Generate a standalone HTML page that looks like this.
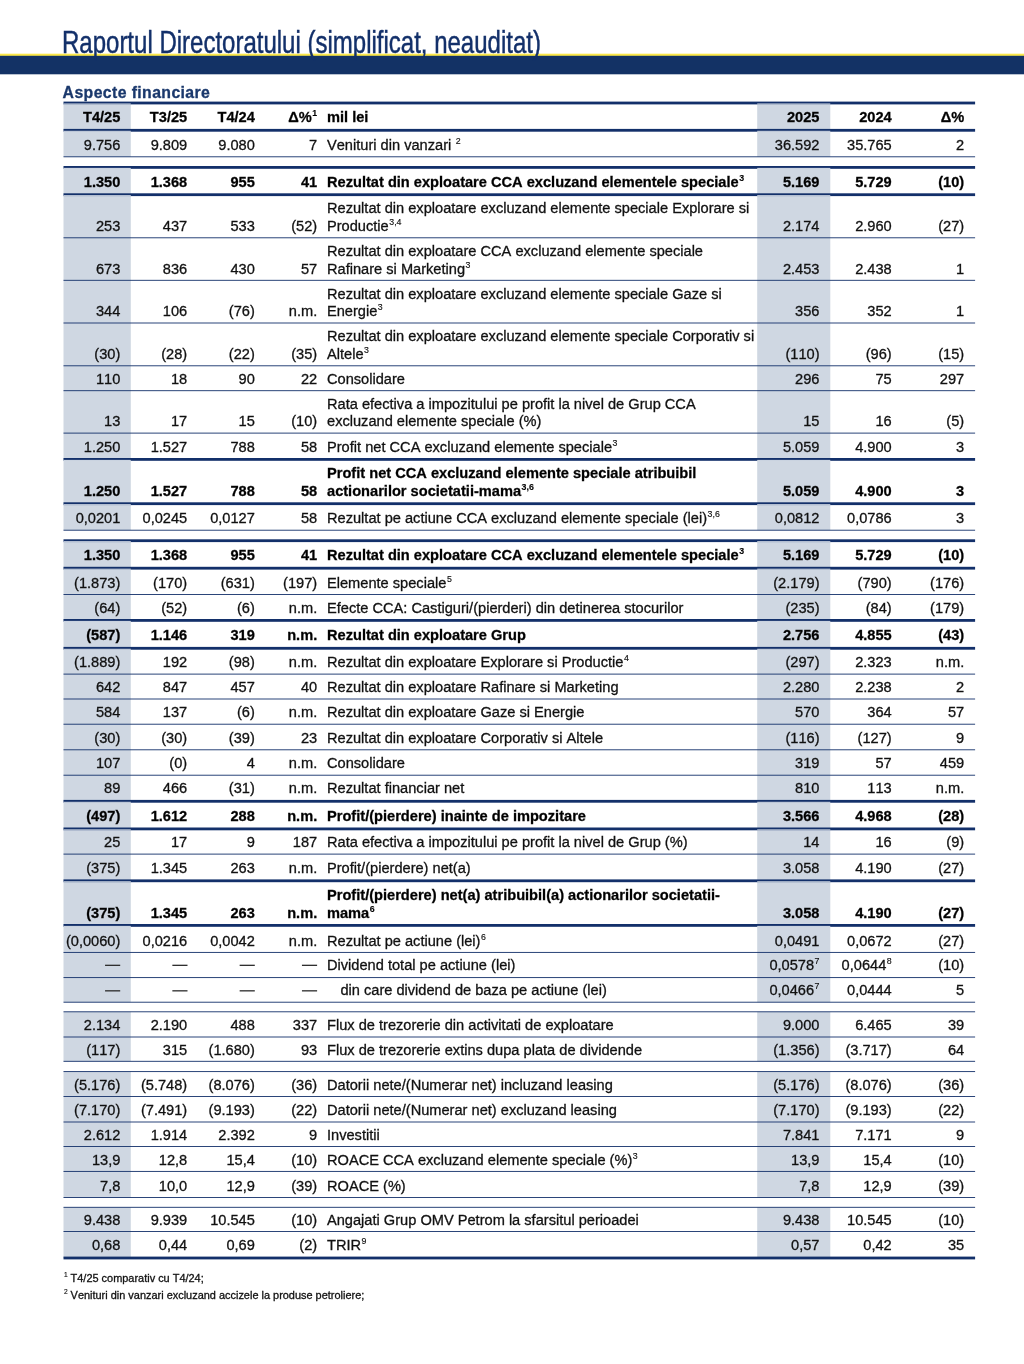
<!DOCTYPE html>
<html lang="ro"><head><meta charset="utf-8"><title>Raportul Directoratului</title>
<style>
html,body{margin:0;padding:0;background:#fff;}
body{width:1024px;height:1364px;position:relative;overflow:hidden;font-family:"Liberation Sans",sans-serif;color:#111;font-kerning:none;}
#g{position:absolute;left:0;top:0;width:1024px;height:1364px;}
#t{position:absolute;left:0;top:0;width:1024px;height:1364px;will-change:transform;}
.title{position:absolute;left:62.2px;top:25.9px;font-size:30.9px;line-height:34px;-webkit-text-stroke:0.45px #13306a;color:#13306a;white-space:nowrap;transform:scaleX(0.777);transform-origin:0 0;}
.sub{position:absolute;left:62.6px;top:83.4px;font-size:15.8px;letter-spacing:0.4px;line-height:19px;font-weight:bold;color:#1a386c;-webkit-text-stroke:0.3px #1a386c;white-space:nowrap;}
.n,.l{position:absolute;font-size:14.61px;line-height:17px;height:17px;white-space:nowrap;}
.n,.l,.fn{-webkit-text-stroke:0.3px #111;}
.n{text-align:right;}
.b{font-weight:bold;color:#000;}
.dash{color:#555;-webkit-text-stroke:0;margin-top:-2px;margin-right:0.8px;}
sup{font-size:8.8px;line-height:0;vertical-align:baseline;position:relative;top:-5.6px;margin-left:0.5px;-webkit-text-stroke:0.15px #111;}
.fn{position:absolute;left:63.4px;font-size:10.95px;line-height:14px;white-space:nowrap;color:#111;}
.fn sup{font-size:6.6px;top:-4.4px;}
</style></head><body>
<svg id="g" width="1024" height="1364" viewBox="0 0 1024 1364">
<rect x="0" y="53.7" width="1024" height="2.3" fill="#fbe84a"/>
<rect x="0" y="55.8" width="1024" height="18.5" fill="#133265"/>
<rect x="63.5" y="103.00" width="67.30" height="53.80" fill="#cfd7e2"/>
<rect x="757.2" y="103.00" width="73.10" height="53.80" fill="#cfd7e2"/>
<rect x="63.5" y="167.40" width="67.30" height="362.80" fill="#cfd7e2"/>
<rect x="757.2" y="167.40" width="73.10" height="362.80" fill="#cfd7e2"/>
<rect x="63.5" y="540.70" width="67.30" height="461.50" fill="#cfd7e2"/>
<rect x="757.2" y="540.70" width="73.10" height="461.50" fill="#cfd7e2"/>
<rect x="63.5" y="1011.80" width="67.30" height="49.50" fill="#cfd7e2"/>
<rect x="757.2" y="1011.80" width="73.10" height="49.50" fill="#cfd7e2"/>
<rect x="63.5" y="1071.60" width="67.30" height="125.90" fill="#cfd7e2"/>
<rect x="757.2" y="1071.60" width="73.10" height="125.90" fill="#cfd7e2"/>
<rect x="63.5" y="1207.30" width="67.30" height="50.70" fill="#cfd7e2"/>
<rect x="757.2" y="1207.30" width="73.10" height="50.70" fill="#cfd7e2"/>
<rect x="63.5" y="101.60" width="911.60" height="2.8" fill="#13306a"/>
<rect x="63.5" y="103.50" width="67.30" height="1.0" fill="#dbe2ea"/>
<rect x="757.2" y="103.50" width="73.10" height="1.0" fill="#dbe2ea"/>
<rect x="63.5" y="128.90" width="911.60" height="2.8" fill="#13306a"/>
<rect x="63.5" y="130.80" width="67.30" height="1.0" fill="#dbe2ea"/>
<rect x="757.2" y="130.80" width="73.10" height="1.0" fill="#dbe2ea"/>
<rect x="63.5" y="156.35" width="911.60" height="0.9" fill="#13306a"/>
<rect x="63.5" y="166.00" width="911.60" height="2.8" fill="#13306a"/>
<rect x="63.5" y="167.90" width="67.30" height="1.0" fill="#dbe2ea"/>
<rect x="757.2" y="167.90" width="73.10" height="1.0" fill="#dbe2ea"/>
<rect x="63.5" y="193.30" width="911.60" height="2.8" fill="#13306a"/>
<rect x="63.5" y="195.20" width="67.30" height="1.0" fill="#dbe2ea"/>
<rect x="757.2" y="195.20" width="73.10" height="1.0" fill="#dbe2ea"/>
<rect x="63.5" y="237.35" width="911.60" height="0.9" fill="#13306a"/>
<rect x="63.5" y="279.85" width="911.60" height="0.9" fill="#13306a"/>
<rect x="63.5" y="322.55" width="911.60" height="0.9" fill="#13306a"/>
<rect x="63.5" y="365.35" width="911.60" height="0.9" fill="#13306a"/>
<rect x="63.5" y="390.25" width="911.60" height="0.9" fill="#13306a"/>
<rect x="63.5" y="432.65" width="911.60" height="0.9" fill="#13306a"/>
<rect x="63.5" y="458.00" width="911.60" height="2.8" fill="#13306a"/>
<rect x="63.5" y="459.90" width="67.30" height="1.0" fill="#dbe2ea"/>
<rect x="757.2" y="459.90" width="73.10" height="1.0" fill="#dbe2ea"/>
<rect x="63.5" y="502.30" width="911.60" height="2.8" fill="#13306a"/>
<rect x="63.5" y="504.20" width="67.30" height="1.0" fill="#dbe2ea"/>
<rect x="757.2" y="504.20" width="73.10" height="1.0" fill="#dbe2ea"/>
<rect x="63.5" y="529.75" width="911.60" height="0.9" fill="#13306a"/>
<rect x="63.5" y="539.30" width="911.60" height="2.8" fill="#13306a"/>
<rect x="63.5" y="541.20" width="67.30" height="1.0" fill="#dbe2ea"/>
<rect x="757.2" y="541.20" width="73.10" height="1.0" fill="#dbe2ea"/>
<rect x="63.5" y="566.80" width="911.60" height="2.8" fill="#13306a"/>
<rect x="63.5" y="568.70" width="67.30" height="1.0" fill="#dbe2ea"/>
<rect x="757.2" y="568.70" width="73.10" height="1.0" fill="#dbe2ea"/>
<rect x="63.5" y="594.05" width="911.60" height="0.9" fill="#13306a"/>
<rect x="63.5" y="619.00" width="911.60" height="2.8" fill="#13306a"/>
<rect x="63.5" y="620.90" width="67.30" height="1.0" fill="#dbe2ea"/>
<rect x="757.2" y="620.90" width="73.10" height="1.0" fill="#dbe2ea"/>
<rect x="63.5" y="646.90" width="911.60" height="2.8" fill="#13306a"/>
<rect x="63.5" y="648.80" width="67.30" height="1.0" fill="#dbe2ea"/>
<rect x="757.2" y="648.80" width="73.10" height="1.0" fill="#dbe2ea"/>
<rect x="63.5" y="673.65" width="911.60" height="0.9" fill="#13306a"/>
<rect x="63.5" y="698.55" width="911.60" height="0.9" fill="#13306a"/>
<rect x="63.5" y="723.75" width="911.60" height="0.9" fill="#13306a"/>
<rect x="63.5" y="749.35" width="911.60" height="0.9" fill="#13306a"/>
<rect x="63.5" y="774.75" width="911.60" height="0.9" fill="#13306a"/>
<rect x="63.5" y="799.90" width="911.60" height="2.8" fill="#13306a"/>
<rect x="63.5" y="801.80" width="67.30" height="1.0" fill="#dbe2ea"/>
<rect x="757.2" y="801.80" width="73.10" height="1.0" fill="#dbe2ea"/>
<rect x="63.5" y="827.50" width="911.60" height="2.8" fill="#13306a"/>
<rect x="63.5" y="829.40" width="67.30" height="1.0" fill="#dbe2ea"/>
<rect x="757.2" y="829.40" width="73.10" height="1.0" fill="#dbe2ea"/>
<rect x="63.5" y="853.65" width="911.60" height="0.9" fill="#13306a"/>
<rect x="63.5" y="879.40" width="911.60" height="2.8" fill="#13306a"/>
<rect x="63.5" y="881.30" width="67.30" height="1.0" fill="#dbe2ea"/>
<rect x="757.2" y="881.30" width="73.10" height="1.0" fill="#dbe2ea"/>
<rect x="63.5" y="924.00" width="911.60" height="2.8" fill="#13306a"/>
<rect x="63.5" y="925.90" width="67.30" height="1.0" fill="#dbe2ea"/>
<rect x="757.2" y="925.90" width="73.10" height="1.0" fill="#dbe2ea"/>
<rect x="63.5" y="951.95" width="911.60" height="0.9" fill="#13306a"/>
<rect x="63.5" y="977.15" width="911.60" height="0.9" fill="#13306a"/>
<rect x="63.5" y="1001.75" width="911.60" height="0.9" fill="#13306a"/>
<rect x="63.5" y="1011.35" width="911.60" height="0.9" fill="#13306a"/>
<rect x="63.5" y="1036.55" width="911.60" height="0.9" fill="#13306a"/>
<rect x="63.5" y="1060.85" width="911.60" height="0.9" fill="#13306a"/>
<rect x="63.5" y="1071.15" width="911.60" height="0.9" fill="#13306a"/>
<rect x="63.5" y="1096.05" width="911.60" height="0.9" fill="#13306a"/>
<rect x="63.5" y="1121.55" width="911.60" height="0.9" fill="#13306a"/>
<rect x="63.5" y="1146.05" width="911.60" height="0.9" fill="#13306a"/>
<rect x="63.5" y="1170.95" width="911.60" height="0.9" fill="#13306a"/>
<rect x="63.5" y="1197.05" width="911.60" height="0.9" fill="#13306a"/>
<rect x="63.5" y="1206.85" width="911.60" height="0.9" fill="#13306a"/>
<rect x="63.5" y="1231.05" width="911.60" height="0.9" fill="#13306a"/>
<rect x="63.5" y="1256.60" width="911.60" height="2.8" fill="#13306a"/>
<rect x="105.05" y="964.68" width="15.15" height="1.3" fill="#2c2c2c"/>
<rect x="172.35" y="964.68" width="15.15" height="1.3" fill="#2c2c2c"/>
<rect x="239.65" y="964.68" width="15.15" height="1.3" fill="#2c2c2c"/>
<rect x="301.95" y="964.68" width="15.15" height="1.3" fill="#2c2c2c"/>
<rect x="105.05" y="990.18" width="15.15" height="1.3" fill="#2c2c2c"/>
<rect x="172.35" y="990.18" width="15.15" height="1.3" fill="#2c2c2c"/>
<rect x="239.65" y="990.18" width="15.15" height="1.3" fill="#2c2c2c"/>
<rect x="301.95" y="990.18" width="15.15" height="1.3" fill="#2c2c2c"/>
</svg>
<div id="t">
<div class="title">Raportul Directoratului (simplificat, neauditat)</div>
<div class="sub">Aspecte financiare</div>
<div class="n b" style="top:109px;right:903.70px">T4/25</div>
<div class="n b" style="top:109px;right:836.80px">T3/25</div>
<div class="n b" style="top:109px;right:769.20px">T4/24</div>
<div class="n b" style="top:109px;right:706.80px">Δ%<sup>1</sup></div>
<div class="n b" style="top:109px;right:204.50px">2025</div>
<div class="n b" style="top:109px;right:132.30px">2024</div>
<div class="n b" style="top:109px;right:59.80px">Δ%</div>
<div class="l b" style="top:109px;left:327.00px">mil lei</div>
<div class="n" style="top:137px;right:903.70px">9.756</div>
<div class="n" style="top:137px;right:836.80px">9.809</div>
<div class="n" style="top:137px;right:769.20px">9.080</div>
<div class="n" style="top:137px;right:706.80px">7</div>
<div class="n" style="top:137px;right:204.50px">36.592</div>
<div class="n" style="top:137px;right:132.30px">35.765</div>
<div class="n" style="top:137px;right:59.80px">2</div>
<div class="l" style="top:137px;left:327.00px">Venituri din vanzari <sup>2</sup></div>
<div class="n b" style="top:174px;right:903.70px">1.350</div>
<div class="n b" style="top:174px;right:836.80px">1.368</div>
<div class="n b" style="top:174px;right:769.20px">955</div>
<div class="n b" style="top:174px;right:706.80px">41</div>
<div class="n b" style="top:174px;right:204.50px">5.169</div>
<div class="n b" style="top:174px;right:132.30px">5.729</div>
<div class="n b" style="top:174px;right:59.80px">(10)</div>
<div class="l b" style="top:174px;left:327.00px">Rezultat din exploatare CCA excluzand elementele speciale<sup>3</sup></div>
<div class="n" style="top:218px;right:903.70px">253</div>
<div class="n" style="top:218px;right:836.80px">437</div>
<div class="n" style="top:218px;right:769.20px">533</div>
<div class="n" style="top:218px;right:706.80px">(52)</div>
<div class="n" style="top:218px;right:204.50px">2.174</div>
<div class="n" style="top:218px;right:132.30px">2.960</div>
<div class="n" style="top:218px;right:59.80px">(27)</div>
<div class="l" style="top:200px;left:327.00px">Rezultat din exploatare excluzand elemente speciale Explorare si</div>
<div class="l" style="top:218px;left:327.00px">Productie<sup>3,4</sup></div>
<div class="n" style="top:261px;right:903.70px">673</div>
<div class="n" style="top:261px;right:836.80px">836</div>
<div class="n" style="top:261px;right:769.20px">430</div>
<div class="n" style="top:261px;right:706.80px">57</div>
<div class="n" style="top:261px;right:204.50px">2.453</div>
<div class="n" style="top:261px;right:132.30px">2.438</div>
<div class="n" style="top:261px;right:59.80px">1</div>
<div class="l" style="top:243px;left:327.00px">Rezultat din exploatare CCA excluzand elemente speciale</div>
<div class="l" style="top:261px;left:327.00px">Rafinare si Marketing<sup>3</sup></div>
<div class="n" style="top:303px;right:903.70px">344</div>
<div class="n" style="top:303px;right:836.80px">106</div>
<div class="n" style="top:303px;right:769.20px">(76)</div>
<div class="n" style="top:303px;right:706.80px">n.m.</div>
<div class="n" style="top:303px;right:204.50px">356</div>
<div class="n" style="top:303px;right:132.30px">352</div>
<div class="n" style="top:303px;right:59.80px">1</div>
<div class="l" style="top:286px;left:327.00px">Rezultat din exploatare excluzand elemente speciale Gaze si</div>
<div class="l" style="top:303px;left:327.00px">Energie<sup>3</sup></div>
<div class="n" style="top:346px;right:903.70px">(30)</div>
<div class="n" style="top:346px;right:836.80px">(28)</div>
<div class="n" style="top:346px;right:769.20px">(22)</div>
<div class="n" style="top:346px;right:706.80px">(35)</div>
<div class="n" style="top:346px;right:204.50px">(110)</div>
<div class="n" style="top:346px;right:132.30px">(96)</div>
<div class="n" style="top:346px;right:59.80px">(15)</div>
<div class="l" style="top:328px;left:327.00px">Rezultat din exploatare excluzand elemente speciale Corporativ si</div>
<div class="l" style="top:346px;left:327.00px">Altele<sup>3</sup></div>
<div class="n" style="top:371px;right:903.70px">110</div>
<div class="n" style="top:371px;right:836.80px">18</div>
<div class="n" style="top:371px;right:769.20px">90</div>
<div class="n" style="top:371px;right:706.80px">22</div>
<div class="n" style="top:371px;right:204.50px">296</div>
<div class="n" style="top:371px;right:132.30px">75</div>
<div class="n" style="top:371px;right:59.80px">297</div>
<div class="l" style="top:371px;left:327.00px">Consolidare</div>
<div class="n" style="top:413px;right:903.70px">13</div>
<div class="n" style="top:413px;right:836.80px">17</div>
<div class="n" style="top:413px;right:769.20px">15</div>
<div class="n" style="top:413px;right:706.80px">(10)</div>
<div class="n" style="top:413px;right:204.50px">15</div>
<div class="n" style="top:413px;right:132.30px">16</div>
<div class="n" style="top:413px;right:59.80px">(5)</div>
<div class="l" style="top:396px;left:327.00px">Rata efectiva a impozitului pe profit la nivel de Grup CCA</div>
<div class="l" style="top:413px;left:327.00px">excluzand elemente speciale (%)</div>
<div class="n" style="top:439px;right:903.70px">1.250</div>
<div class="n" style="top:439px;right:836.80px">1.527</div>
<div class="n" style="top:439px;right:769.20px">788</div>
<div class="n" style="top:439px;right:706.80px">58</div>
<div class="n" style="top:439px;right:204.50px">5.059</div>
<div class="n" style="top:439px;right:132.30px">4.900</div>
<div class="n" style="top:439px;right:59.80px">3</div>
<div class="l" style="top:439px;left:327.00px">Profit net CCA excluzand elemente speciale<sup>3</sup></div>
<div class="n b" style="top:483px;right:903.70px">1.250</div>
<div class="n b" style="top:483px;right:836.80px">1.527</div>
<div class="n b" style="top:483px;right:769.20px">788</div>
<div class="n b" style="top:483px;right:706.80px">58</div>
<div class="n b" style="top:483px;right:204.50px">5.059</div>
<div class="n b" style="top:483px;right:132.30px">4.900</div>
<div class="n b" style="top:483px;right:59.80px">3</div>
<div class="l b" style="top:465px;left:327.00px">Profit net CCA excluzand elemente speciale atribuibil</div>
<div class="l b" style="top:483px;left:327.00px">actionarilor societatii-mama<sup>3,6</sup></div>
<div class="n" style="top:510px;right:903.70px">0,0201</div>
<div class="n" style="top:510px;right:836.80px">0,0245</div>
<div class="n" style="top:510px;right:769.20px">0,0127</div>
<div class="n" style="top:510px;right:706.80px">58</div>
<div class="n" style="top:510px;right:204.50px">0,0812</div>
<div class="n" style="top:510px;right:132.30px">0,0786</div>
<div class="n" style="top:510px;right:59.80px">3</div>
<div class="l" style="top:510px;left:327.00px">Rezultat pe actiune CCA excluzand elemente speciale (lei)<sup>3,6</sup></div>
<div class="n b" style="top:547px;right:903.70px">1.350</div>
<div class="n b" style="top:547px;right:836.80px">1.368</div>
<div class="n b" style="top:547px;right:769.20px">955</div>
<div class="n b" style="top:547px;right:706.80px">41</div>
<div class="n b" style="top:547px;right:204.50px">5.169</div>
<div class="n b" style="top:547px;right:132.30px">5.729</div>
<div class="n b" style="top:547px;right:59.80px">(10)</div>
<div class="l b" style="top:547px;left:327.00px">Rezultat din exploatare CCA excluzand elementele speciale<sup>3</sup></div>
<div class="n" style="top:575px;right:903.70px">(1.873)</div>
<div class="n" style="top:575px;right:836.80px">(170)</div>
<div class="n" style="top:575px;right:769.20px">(631)</div>
<div class="n" style="top:575px;right:706.80px">(197)</div>
<div class="n" style="top:575px;right:204.50px">(2.179)</div>
<div class="n" style="top:575px;right:132.30px">(790)</div>
<div class="n" style="top:575px;right:59.80px">(176)</div>
<div class="l" style="top:575px;left:327.00px">Elemente speciale<sup>5</sup></div>
<div class="n" style="top:600px;right:903.70px">(64)</div>
<div class="n" style="top:600px;right:836.80px">(52)</div>
<div class="n" style="top:600px;right:769.20px">(6)</div>
<div class="n" style="top:600px;right:706.80px">n.m.</div>
<div class="n" style="top:600px;right:204.50px">(235)</div>
<div class="n" style="top:600px;right:132.30px">(84)</div>
<div class="n" style="top:600px;right:59.80px">(179)</div>
<div class="l" style="top:600px;left:327.00px">Efecte CCA: Castiguri/(pierderi) din detinerea stocurilor</div>
<div class="n b" style="top:627px;right:903.70px">(587)</div>
<div class="n b" style="top:627px;right:836.80px">1.146</div>
<div class="n b" style="top:627px;right:769.20px">319</div>
<div class="n b" style="top:627px;right:706.80px">n.m.</div>
<div class="n b" style="top:627px;right:204.50px">2.756</div>
<div class="n b" style="top:627px;right:132.30px">4.855</div>
<div class="n b" style="top:627px;right:59.80px">(43)</div>
<div class="l b" style="top:627px;left:327.00px">Rezultat din exploatare Grup</div>
<div class="n" style="top:654px;right:903.70px">(1.889)</div>
<div class="n" style="top:654px;right:836.80px">192</div>
<div class="n" style="top:654px;right:769.20px">(98)</div>
<div class="n" style="top:654px;right:706.80px">n.m.</div>
<div class="n" style="top:654px;right:204.50px">(297)</div>
<div class="n" style="top:654px;right:132.30px">2.323</div>
<div class="n" style="top:654px;right:59.80px">n.m.</div>
<div class="l" style="top:654px;left:327.00px">Rezultat din exploatare Explorare si Productie<sup>4</sup></div>
<div class="n" style="top:679px;right:903.70px">642</div>
<div class="n" style="top:679px;right:836.80px">847</div>
<div class="n" style="top:679px;right:769.20px">457</div>
<div class="n" style="top:679px;right:706.80px">40</div>
<div class="n" style="top:679px;right:204.50px">2.280</div>
<div class="n" style="top:679px;right:132.30px">2.238</div>
<div class="n" style="top:679px;right:59.80px">2</div>
<div class="l" style="top:679px;left:327.00px">Rezultat din exploatare Rafinare si Marketing</div>
<div class="n" style="top:704px;right:903.70px">584</div>
<div class="n" style="top:704px;right:836.80px">137</div>
<div class="n" style="top:704px;right:769.20px">(6)</div>
<div class="n" style="top:704px;right:706.80px">n.m.</div>
<div class="n" style="top:704px;right:204.50px">570</div>
<div class="n" style="top:704px;right:132.30px">364</div>
<div class="n" style="top:704px;right:59.80px">57</div>
<div class="l" style="top:704px;left:327.00px">Rezultat din exploatare Gaze si Energie</div>
<div class="n" style="top:730px;right:903.70px">(30)</div>
<div class="n" style="top:730px;right:836.80px">(30)</div>
<div class="n" style="top:730px;right:769.20px">(39)</div>
<div class="n" style="top:730px;right:706.80px">23</div>
<div class="n" style="top:730px;right:204.50px">(116)</div>
<div class="n" style="top:730px;right:132.30px">(127)</div>
<div class="n" style="top:730px;right:59.80px">9</div>
<div class="l" style="top:730px;left:327.00px">Rezultat din exploatare Corporativ si Altele</div>
<div class="n" style="top:755px;right:903.70px">107</div>
<div class="n" style="top:755px;right:836.80px">(0)</div>
<div class="n" style="top:755px;right:769.20px">4</div>
<div class="n" style="top:755px;right:706.80px">n.m.</div>
<div class="n" style="top:755px;right:204.50px">319</div>
<div class="n" style="top:755px;right:132.30px">57</div>
<div class="n" style="top:755px;right:59.80px">459</div>
<div class="l" style="top:755px;left:327.00px">Consolidare</div>
<div class="n" style="top:780px;right:903.70px">89</div>
<div class="n" style="top:780px;right:836.80px">466</div>
<div class="n" style="top:780px;right:769.20px">(31)</div>
<div class="n" style="top:780px;right:706.80px">n.m.</div>
<div class="n" style="top:780px;right:204.50px">810</div>
<div class="n" style="top:780px;right:132.30px">113</div>
<div class="n" style="top:780px;right:59.80px">n.m.</div>
<div class="l" style="top:780px;left:327.00px">Rezultat financiar net</div>
<div class="n b" style="top:808px;right:903.70px">(497)</div>
<div class="n b" style="top:808px;right:836.80px">1.612</div>
<div class="n b" style="top:808px;right:769.20px">288</div>
<div class="n b" style="top:808px;right:706.80px">n.m.</div>
<div class="n b" style="top:808px;right:204.50px">3.566</div>
<div class="n b" style="top:808px;right:132.30px">4.968</div>
<div class="n b" style="top:808px;right:59.80px">(28)</div>
<div class="l b" style="top:808px;left:327.00px">Profit/(pierdere) inainte de impozitare</div>
<div class="n" style="top:834px;right:903.70px">25</div>
<div class="n" style="top:834px;right:836.80px">17</div>
<div class="n" style="top:834px;right:769.20px">9</div>
<div class="n" style="top:834px;right:706.80px">187</div>
<div class="n" style="top:834px;right:204.50px">14</div>
<div class="n" style="top:834px;right:132.30px">16</div>
<div class="n" style="top:834px;right:59.80px">(9)</div>
<div class="l" style="top:834px;left:327.00px">Rata efectiva a impozitului pe profit la nivel de Grup (%)</div>
<div class="n" style="top:860px;right:903.70px">(375)</div>
<div class="n" style="top:860px;right:836.80px">1.345</div>
<div class="n" style="top:860px;right:769.20px">263</div>
<div class="n" style="top:860px;right:706.80px">n.m.</div>
<div class="n" style="top:860px;right:204.50px">3.058</div>
<div class="n" style="top:860px;right:132.30px">4.190</div>
<div class="n" style="top:860px;right:59.80px">(27)</div>
<div class="l" style="top:860px;left:327.00px">Profit/(pierdere) net(a)</div>
<div class="n b" style="top:905px;right:903.70px">(375)</div>
<div class="n b" style="top:905px;right:836.80px">1.345</div>
<div class="n b" style="top:905px;right:769.20px">263</div>
<div class="n b" style="top:905px;right:706.80px">n.m.</div>
<div class="n b" style="top:905px;right:204.50px">3.058</div>
<div class="n b" style="top:905px;right:132.30px">4.190</div>
<div class="n b" style="top:905px;right:59.80px">(27)</div>
<div class="l b" style="top:887px;left:327.00px">Profit/(pierdere) net(a) atribuibil(a) actionarilor societatii-</div>
<div class="l b" style="top:905px;left:327.00px">mama<sup>6</sup></div>
<div class="n" style="top:933px;right:903.70px">(0,0060)</div>
<div class="n" style="top:933px;right:836.80px">0,0216</div>
<div class="n" style="top:933px;right:769.20px">0,0042</div>
<div class="n" style="top:933px;right:706.80px">n.m.</div>
<div class="n" style="top:933px;right:204.50px">0,0491</div>
<div class="n" style="top:933px;right:132.30px">0,0672</div>
<div class="n" style="top:933px;right:59.80px">(27)</div>
<div class="l" style="top:933px;left:327.00px">Rezultat pe actiune (lei)<sup>6</sup></div>
<div class="n" style="top:957px;right:204.50px">0,0578<sup>7</sup></div>
<div class="n" style="top:957px;right:132.30px">0,0644<sup>8</sup></div>
<div class="n" style="top:957px;right:59.80px">(10)</div>
<div class="l" style="top:957px;left:327.00px">Dividend total pe actiune (lei)</div>
<div class="n" style="top:982px;right:204.50px">0,0466<sup>7</sup></div>
<div class="n" style="top:982px;right:132.30px">0,0444</div>
<div class="n" style="top:982px;right:59.80px">5</div>
<div class="l" style="top:982px;left:340.40px">din care dividend de baza pe actiune (lei)</div>
<div class="n" style="top:1017px;right:903.70px">2.134</div>
<div class="n" style="top:1017px;right:836.80px">2.190</div>
<div class="n" style="top:1017px;right:769.20px">488</div>
<div class="n" style="top:1017px;right:706.80px">337</div>
<div class="n" style="top:1017px;right:204.50px">9.000</div>
<div class="n" style="top:1017px;right:132.30px">6.465</div>
<div class="n" style="top:1017px;right:59.80px">39</div>
<div class="l" style="top:1017px;left:327.00px">Flux de trezorerie din activitati de exploatare</div>
<div class="n" style="top:1042px;right:903.70px">(117)</div>
<div class="n" style="top:1042px;right:836.80px">315</div>
<div class="n" style="top:1042px;right:769.20px">(1.680)</div>
<div class="n" style="top:1042px;right:706.80px">93</div>
<div class="n" style="top:1042px;right:204.50px">(1.356)</div>
<div class="n" style="top:1042px;right:132.30px">(3.717)</div>
<div class="n" style="top:1042px;right:59.80px">64</div>
<div class="l" style="top:1042px;left:327.00px">Flux de trezorerie extins dupa plata de dividende</div>
<div class="n" style="top:1077px;right:903.70px">(5.176)</div>
<div class="n" style="top:1077px;right:836.80px">(5.748)</div>
<div class="n" style="top:1077px;right:769.20px">(8.076)</div>
<div class="n" style="top:1077px;right:706.80px">(36)</div>
<div class="n" style="top:1077px;right:204.50px">(5.176)</div>
<div class="n" style="top:1077px;right:132.30px">(8.076)</div>
<div class="n" style="top:1077px;right:59.80px">(36)</div>
<div class="l" style="top:1077px;left:327.00px">Datorii nete/(Numerar net) incluzand leasing</div>
<div class="n" style="top:1102px;right:903.70px">(7.170)</div>
<div class="n" style="top:1102px;right:836.80px">(7.491)</div>
<div class="n" style="top:1102px;right:769.20px">(9.193)</div>
<div class="n" style="top:1102px;right:706.80px">(22)</div>
<div class="n" style="top:1102px;right:204.50px">(7.170)</div>
<div class="n" style="top:1102px;right:132.30px">(9.193)</div>
<div class="n" style="top:1102px;right:59.80px">(22)</div>
<div class="l" style="top:1102px;left:327.00px">Datorii nete/(Numerar net) excluzand leasing</div>
<div class="n" style="top:1127px;right:903.70px">2.612</div>
<div class="n" style="top:1127px;right:836.80px">1.914</div>
<div class="n" style="top:1127px;right:769.20px">2.392</div>
<div class="n" style="top:1127px;right:706.80px">9</div>
<div class="n" style="top:1127px;right:204.50px">7.841</div>
<div class="n" style="top:1127px;right:132.30px">7.171</div>
<div class="n" style="top:1127px;right:59.80px">9</div>
<div class="l" style="top:1127px;left:327.00px">Investitii</div>
<div class="n" style="top:1152px;right:903.70px">13,9</div>
<div class="n" style="top:1152px;right:836.80px">12,8</div>
<div class="n" style="top:1152px;right:769.20px">15,4</div>
<div class="n" style="top:1152px;right:706.80px">(10)</div>
<div class="n" style="top:1152px;right:204.50px">13,9</div>
<div class="n" style="top:1152px;right:132.30px">15,4</div>
<div class="n" style="top:1152px;right:59.80px">(10)</div>
<div class="l" style="top:1152px;left:327.00px">ROACE CCA excluzand elemente speciale (%)<sup>3</sup></div>
<div class="n" style="top:1178px;right:903.70px">7,8</div>
<div class="n" style="top:1178px;right:836.80px">10,0</div>
<div class="n" style="top:1178px;right:769.20px">12,9</div>
<div class="n" style="top:1178px;right:706.80px">(39)</div>
<div class="n" style="top:1178px;right:204.50px">7,8</div>
<div class="n" style="top:1178px;right:132.30px">12,9</div>
<div class="n" style="top:1178px;right:59.80px">(39)</div>
<div class="l" style="top:1178px;left:327.00px">ROACE (%)</div>
<div class="n" style="top:1212px;right:903.70px">9.438</div>
<div class="n" style="top:1212px;right:836.80px">9.939</div>
<div class="n" style="top:1212px;right:769.20px">10.545</div>
<div class="n" style="top:1212px;right:706.80px">(10)</div>
<div class="n" style="top:1212px;right:204.50px">9.438</div>
<div class="n" style="top:1212px;right:132.30px">10.545</div>
<div class="n" style="top:1212px;right:59.80px">(10)</div>
<div class="l" style="top:1212px;left:327.00px">Angajati Grup OMV Petrom la sfarsitul perioadei</div>
<div class="n" style="top:1237px;right:903.70px">0,68</div>
<div class="n" style="top:1237px;right:836.80px">0,44</div>
<div class="n" style="top:1237px;right:769.20px">0,69</div>
<div class="n" style="top:1237px;right:706.80px">(2)</div>
<div class="n" style="top:1237px;right:204.50px">0,57</div>
<div class="n" style="top:1237px;right:132.30px">0,42</div>
<div class="n" style="top:1237px;right:59.80px">35</div>
<div class="l" style="top:1237px;left:327.00px">TRIR<sup>9</sup></div>
<div class="fn" style="top:1270.6px"><sup>1</sup> T4/25 comparativ cu T4/24;</div>
<div class="fn" style="top:1287.8px"><sup>2</sup> Venituri din vanzari excluzand accizele la produse petroliere;</div>
</div>
</body></html>
